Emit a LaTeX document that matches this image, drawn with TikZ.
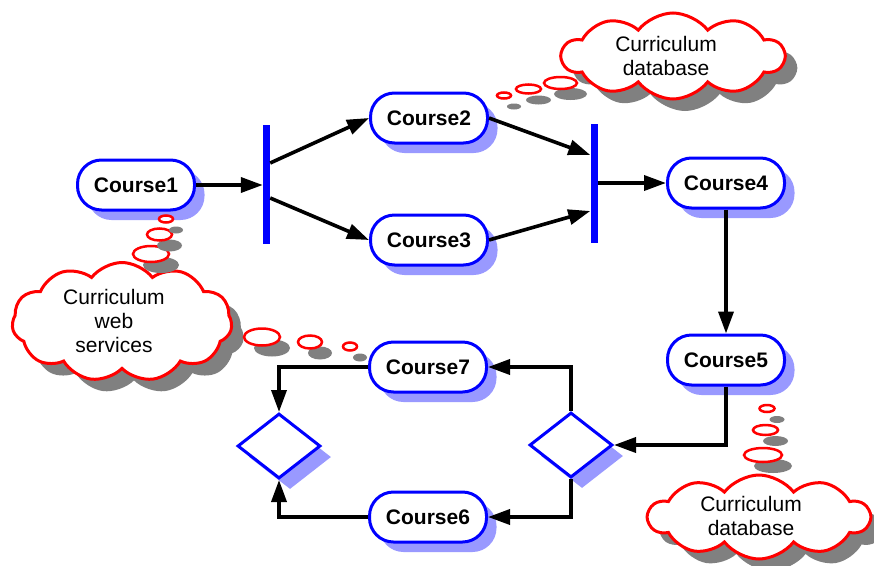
\documentclass[tikz,border=0pt]{standalone}
\usepackage{fontspec}
\setmainfont{Liberation Sans}
\usetikzlibrary{arrows.meta,shapes.geometric,shapes.symbols,shadows,calc}
\definecolor{flowblue}{HTML}{0000FF}
\definecolor{boxshade}{HTML}{9999FF}
\definecolor{cloudshade}{HTML}{808080}
\definecolor{cloudred}{HTML}{FF0000}

\begin{document}
\begin{tikzpicture}[x=1pt,y=-1pt,
  course/.style={draw=flowblue, line width=3pt, fill=white, rounded corners=24pt,
    minimum width=117pt, minimum height=50pt, inner sep=0pt,
    font=\fontsize{21}{24}\selectfont\bfseries,
    copy shadow={shadow xshift=10pt, shadow yshift=-10pt, fill=boxshade, draw=none}},
  bar/.style={fill=flowblue, draw=none, minimum width=7pt, minimum height=119pt, inner sep=0pt},
  choice/.style={diamond, draw=flowblue, line width=3pt, fill=white,
    minimum width=83pt, minimum height=65pt, inner sep=0pt,
    copy shadow={shadow xshift=11pt, shadow yshift=-11pt, fill=boxshade, draw=none}},
  thought/.style={cloud, cloud puffs=10, cloud puff arc=105, cloud ignores aspect,
    draw=cloudred, line width=3pt, fill=white, inner sep=0pt,
    copy shadow={shadow xshift=12pt, shadow yshift=-12pt, fill=cloudshade, draw=none}},
  thoughttext/.style={align=center, font=\fontsize{21}{24}\selectfont, inner sep=0pt},
  bubble/.style={ellipse, draw=cloudred, line width=2.5pt, fill=white, inner sep=0pt,
    copy shadow={shadow xshift=10pt, shadow yshift=-11pt, fill=cloudshade, draw=none}},
  flow/.style={line width=3.6pt, -{Triangle[length=22pt,width=15pt]}}
]
\useasboundingbox (0,0) rectangle (874,565);
\fill[white] (0,0) rectangle (874,565);

% course steps
\node[course] (c1) at (136,185) {Course1};
\node[course] (c2) at (429,118) {Course2};
\node[course] (c3) at (429,240) {Course3};
\node[course] (c4) at (726,183) {Course4};
\node[course] (c5) at (726,360) {Course5};
\node[course] (c7) at (428,367) {Course7};
\node[course] (c6) at (428,517) {Course6};

% fork / join bars
\node[bar] (fork) at (266.5,184.5) {};
\node[bar] (join) at (594,183) {};

% decisions
\node[choice] (dright) at (571,445) {};
\node[choice] (dleft) at (279,446) {};

% thought clouds
\node[thought, minimum width=222pt, minimum height=86pt] (dbtop) at (673,56) {};
\node[thoughttext] (dbtoptext) at (666,56) {Curriculum\\database};

\node[thought, cloud puffs=11, minimum width=220pt, minimum height=119pt] (websvc) at (122,322) {};
\node[thoughttext] (websvctext) at (114,321) {Curriculum\\web\\services};

\node[thought, minimum width=221pt, minimum height=84pt] (dbbottom) at (759,517) {};
\node[thoughttext] (dbbottomtext) at (751,516) {Curriculum\\database};

% thought bubbles
\node[bubble, minimum width=33pt, minimum height=12pt] (ta) at (560.5,83) {};
\node[bubble, minimum width=25pt, minimum height=9pt] (tb) at (528.5,89) {};
\node[bubble, minimum width=14pt, minimum height=6pt] (tc) at (504,95.5) {};

\node[bubble, minimum width=36pt, minimum height=16pt] (la) at (151,254) {};
\node[bubble, minimum width=25pt, minimum height=12pt] (lb) at (159.5,234.5) {};
\node[bubble, minimum width=14pt, minimum height=7pt] (lc) at (166,219) {};

\node[bubble, minimum width=36pt, minimum height=17pt] (ra) at (262,337) {};
\node[bubble, minimum width=24pt, minimum height=13pt] (rb) at (310,342) {};
\node[bubble, minimum width=14pt, minimum height=8pt] (rc) at (350,346.5) {};

\node[bubble, minimum width=38pt, minimum height=14pt] (ba) at (763,455) {};
\node[bubble, minimum width=25pt, minimum height=10pt] (bb) at (765.5,430) {};
\node[bubble, minimum width=15pt, minimum height=7pt] (bc) at (767,408.5) {};

% flow connectors
\draw[flow] (c1) -- (c1 -| fork.west);
\draw[flow] ([yshift=21.5pt]fork.east) -- (c2.west);
\draw[flow] ([yshift=-13.5pt]fork.east) -- (c3.west);
\draw[flow] (c2.east) -- ([yshift=28pt]join.west);
\draw[flow] (c3.east) -- ([yshift=-28pt]join.west);
\draw[flow] (join.east) -- (c4.west);
\draw[flow] (c4) -- (c5);
\draw[flow] (c5.south) |- (dright.east);
\draw[flow] (dright.north) |- (c7.east);
\draw[flow] (dright.south) |- (c6.east);
\draw[flow] (c7.west) -| (dleft.north);
\draw[flow] (c6.west) -| (dleft.south);
\end{tikzpicture}
\end{document}
